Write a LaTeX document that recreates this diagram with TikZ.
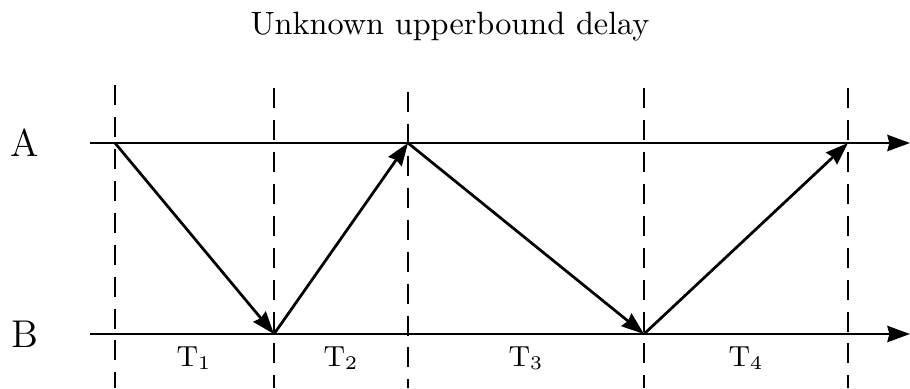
\documentclass[tikz,border=0pt]{standalone}
\usepackage{amsmath}
\usetikzlibrary{arrows.meta, positioning}

\begin{document}
\begin{tikzpicture}[
    x=0.31pt, y=-0.31pt,
    >={Stealth[length=7pt, width=5pt, inset=0.6pt]},
    axis/.style={->, line width=0.9pt},
    msg/.style={->, line width=0.85pt},
    tick/.style={line width=0.9pt, dash pattern=on 6.2pt off 3.7pt},
    proc/.style={font=\large, inner sep=0pt},
    gap/.style={font=\small, inner sep=0pt},
]
\useasboundingbox (0,0) rectangle (910,388);

% === Title ===
\node (title) at (450,27) {Unknown upperbound delay};

% === Processes A and B ===
\node[proc] (A) at (25,143) {A};
\node[proc] (B) at (25,334) {B};

\coordinate (a-start) at (90,143);
\coordinate (a-end) at (910,143);
\coordinate (b-start) at (90,334);
\coordinate (b-end) at (910,334);

\draw[axis] (a-start) -- (a-end);
\draw[axis] (b-start) -- (b-end);

% Dashed time marks
\foreach \x/\t in {115/85, 274/88, 408/92, 644/88, 848/88}
    \draw[tick] (\x,\t) -- (\x,388);

% === Message exchange ===
\coordinate (a1) at (115,143);
\coordinate (b1) at (274,334);
\coordinate (a2) at (408,143);
\coordinate (b2) at (644,334);
\coordinate (a3) at (848,143);

\draw[msg] (a1) -- (b1);
\draw[msg] (b1) -- (a2);
\draw[msg] (a2) -- (b2);
\draw[msg] (b2) -- (a3);

% Interval labels
\node[gap] (t1) at (194,358) {T$_1$};
\node[gap] (t2) at (341,358) {T$_2$};
\node[gap] (t3) at (526,358) {T$_3$};
\node[gap] (t4) at (746,358) {T$_4$};

\end{tikzpicture}
\end{document}
